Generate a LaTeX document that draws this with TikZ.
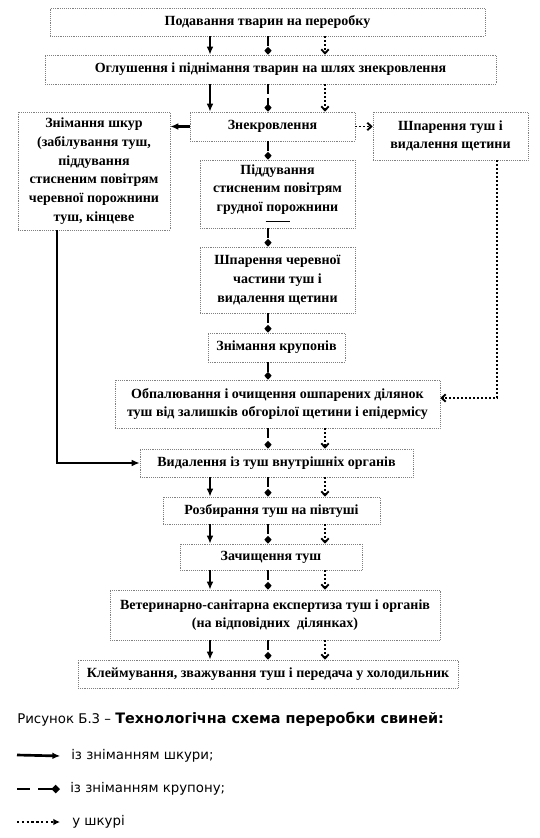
\documentclass[tikz,border=0pt]{standalone}
\usepackage{fontspec}
\setmainfont{Liberation Serif}
\newfontfamily\capfont{DejaVu Sans}
\usetikzlibrary{arrows.meta}
\tikzstyle{stage} = [rectangle, text centered, align=center, inner sep=0pt, draw=gray, densely dotted, fill=white, font=\bfseries\fontsize{10.5}{14}\selectfont]
\tikzstyle{skinarrow} = [-{Latex[length=6pt,width=5pt]}, line width=1.6pt]
\tikzstyle{cruparrow} = [-{Diamond[length=6pt,width=5.5pt]}, line width=1.6pt, dash pattern=on 7pt off 3pt]
\tikzstyle{hidearrow} = [-{Straight Barb[length=3pt,width=5.5pt]}, line width=1.4pt, dash pattern=on 1.4pt off 1.6pt]
\tikzstyle{legend} = [anchor=west, inner sep=0pt, font=\capfont\fontsize{10}{12}\selectfont]

\begin{document}
\begin{tikzpicture}[x=0.75pt, y=-0.75pt]
	\useasboundingbox (0,0) rectangle (539,838);
	% columns of the three lines
	\coordinate (cS) at (210,0);
	\coordinate (cK) at (268,0);
	\coordinate (cD) at (325,0);
	\coordinate (cL) at (57,0);
	\coordinate (cR) at (497,0);
	
	\node (SUPPLY) [stage, minimum width=326pt, minimum height=21pt] at (267.5,22) {Подавання тварин на переробку};
	\node (STUN) [stage, minimum width=338pt, minimum height=21.75pt] at (270.5,69.5) {Оглушення і піднімання тварин на шлях знекровлення};
	\node (BLEED) [stage, minimum width=123.75pt, minimum height=21.75pt] at (272.5,126.5) {Знекровлення};
	\node (SKIN) [stage, minimum width=114pt, minimum height=88.5pt] at (94,171) {Знімання шкур\\(забілування туш,\\піддування\\стисненим повітрям\\черевної порожнини\\туш, кінцеве};
	\node (SCALD) [stage, minimum width=116.25pt, minimum height=36pt] at (450.5,136) {Шпарення туш і\\видалення щетини};
	\node (BLOW) [stage, minimum width=116.25pt, minimum height=51pt] at (277.5,194) {Піддування\\стисненим повітрям\\грудної порожнини\\[-5pt]\rule[1pt]{18pt}{0.7pt}};
	\node (BELLY) [stage, minimum width=116.25pt, minimum height=49.5pt] at (277.5,280) {Шпарення черевної\\частини туш і\\видалення щетини};
	\node (CROUP) [stage, minimum width=102.75pt, minimum height=21.75pt] at (276.5,347.5) {Знімання крупонів};
	\node (SINGE) [stage, minimum width=243.75pt, minimum height=36pt] at (277.5,404) {Обпалювання і очищення ошпарених ділянок\\туш від залишків обгорілої щетини і епідермісу};
	\node (GUTS) [stage, minimum width=204.75pt, minimum height=21pt] at (276.5,463) {Видалення із туш внутрішніх органів};
	\node (SPLIT) [stage, minimum width=162.75pt, minimum height=20.25pt] at (271.5,510.5) {Розбирання туш на півтуші};
	\node (TRIM) [stage, minimum width=136.5pt, minimum height=19.5pt] at (271,557) {Зачищення туш};
	\node (VET) [stage, minimum width=247.5pt, minimum height=37.5pt] at (275,615) {Ветеринарно-санітарна експертиза туш і органів\\(на відповідних \ ділянках)};
	\node (BRAND) [stage, minimum width=285pt, minimum height=21pt] at (268,674) {Клеймування, зважування туш і передача у холодильник};
	
	\draw [skinarrow](SUPPLY.south -| cS) -- (STUN.north -| cS);
	\draw [cruparrow](SUPPLY.south -| cK) -- (STUN.north -| cK);
	\draw [hidearrow](SUPPLY.south -| cD) -- (STUN.north -| cD);
	\draw [skinarrow](STUN.south -| cS) -- (BLEED.north -| cS);
	\draw [cruparrow](STUN.south -| cK) -- (BLEED.north -| cK);
	\draw [hidearrow](STUN.south -| cD) -- (BLEED.north -| cD);
	\draw [skinarrow](BLEED.west) -- (SKIN.east |- BLEED.west);
	\draw [hidearrow](BLEED.east) -- (SCALD.west |- BLEED.east);
	\draw [cruparrow](BLEED.south -| cK) -- (BLOW.north -| cK);
	\draw [cruparrow](BLOW.south -| cK) -- (BELLY.north -| cK);
	\draw [cruparrow](BELLY.south -| cK) -- (CROUP.north -| cK);
	\draw [cruparrow](CROUP.south -| cK) -- (SINGE.north -| cK);
	\draw [hidearrow](SCALD.south -| cR) |- ([yshift=4.5pt]SINGE.east);
	\draw [skinarrow](SKIN.south -| cL) |- (GUTS.west);
	\draw [cruparrow](SINGE.south -| cK) -- (GUTS.north -| cK);
	\draw [hidearrow](SINGE.south -| cD) -- (GUTS.north -| cD);
	\draw [skinarrow](GUTS.south -| cS) -- (SPLIT.north -| cS);
	\draw [cruparrow](GUTS.south -| cK) -- (SPLIT.north -| cK);
	\draw [hidearrow](GUTS.south -| cD) -- (SPLIT.north -| cD);
	\draw [skinarrow](SPLIT.south -| cS) -- (TRIM.north -| cS);
	\draw [cruparrow](SPLIT.south -| cK) -- (TRIM.north -| cK);
	\draw [hidearrow](SPLIT.south -| cD) -- (TRIM.north -| cD);
	\draw [skinarrow](TRIM.south -| cS) -- (VET.north -| cS);
	\draw [cruparrow](TRIM.south -| cK) -- (VET.north -| cK);
	\draw [hidearrow](TRIM.south -| cD) -- (VET.north -| cD);
	\draw [skinarrow](VET.south -| cS) -- (BRAND.north -| cS);
	\draw [cruparrow](VET.south -| cK) -- (BRAND.north -| cK);
	\draw [hidearrow](VET.south -| cD) -- (BRAND.north -| cD);
	
	% caption and legend
	\node (CAPTION) [legend] at (17,719) {Рисунок Б.3 – {\bfseries\fontsize{10.8}{12}\selectfont Технологічна схема переробки свиней:}};
	\coordinate (k1) at (17,755);
	\node (LSKIN) [legend] at (71,756) {із зніманням шкури;};
	\draw [skinarrow, line width=2pt](k1) -- ([xshift=-8pt]LSKIN.west);
	\coordinate (k2) at (17,789);
	\node (LCROUP) [legend] at (70,789) {із зніманням крупону;};
	\draw [cruparrow, line width=2pt, -{Diamond[length=6.5pt,width=6.5pt]}, dash pattern=on 10pt off 6pt](k2) -- ([xshift=-7.5pt]LCROUP.west);
	\coordinate (k3) at (17,822);
	\node (LHIDE) [legend] at (72,822) {у шкурі};
	\draw [hidearrow, line width=1.8pt, dash pattern=on 1.8pt off 1.8pt, -{Latex[length=5pt,width=5pt]}](k3) -- ([xshift=-9pt]LHIDE.west);
\end{tikzpicture}
\end{document}
